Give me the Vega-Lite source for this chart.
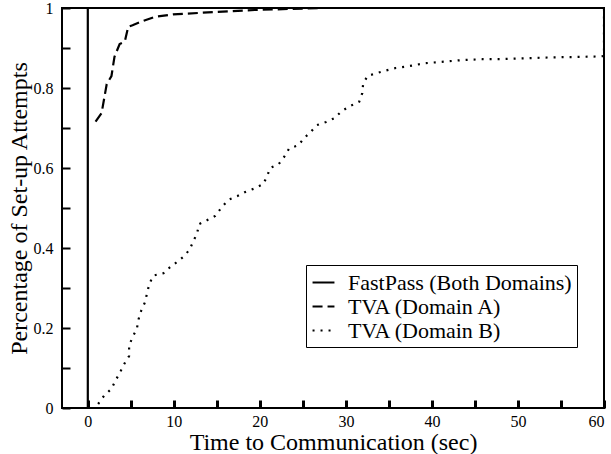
{
  "$schema": "https://vega.github.io/schema/vega-lite/v6.json",
  "width": 542,
  "height": 400,
  "autosize": {"type": "none"},
  "padding": {"left": 62, "top": 8, "right": 7, "bottom": 46},
  "background": "white",
  "config": {
    "font": "Liberation Serif",
    "view": {"stroke": "black", "strokeWidth": 2},
    "axis": {"grid": false, "domain": false, "labelFont": "Liberation Serif", "titleFont": "Liberation Serif", "labelColor": "black", "titleColor": "black", "titleFontWeight": "normal", "labelFontSize": 16, "titleFontSize": 24},
    "legend": {"labelFont": "Liberation Serif"}
  },
  "data": {"values": [
    {"series": "FastPass (Both Domains)", "x": 0, "y": 0},
    {"series": "FastPass (Both Domains)", "x": 0, "y": 1},
    {"series": "TVA (Domain A)", "x": 0.9, "y": 0.716},
    {"series": "TVA (Domain A)", "x": 1.6, "y": 0.737},
    {"series": "TVA (Domain A)", "x": 2.2, "y": 0.81},
    {"series": "TVA (Domain A)", "x": 2.75, "y": 0.83},
    {"series": "TVA (Domain A)", "x": 3.1, "y": 0.878},
    {"series": "TVA (Domain A)", "x": 3.7, "y": 0.91},
    {"series": "TVA (Domain A)", "x": 4.3, "y": 0.916},
    {"series": "TVA (Domain A)", "x": 4.7, "y": 0.953},
    {"series": "TVA (Domain A)", "x": 5.2, "y": 0.957},
    {"series": "TVA (Domain A)", "x": 6.2, "y": 0.966},
    {"series": "TVA (Domain A)", "x": 7.8, "y": 0.978},
    {"series": "TVA (Domain A)", "x": 9.9, "y": 0.984},
    {"series": "TVA (Domain A)", "x": 14.8, "y": 0.99},
    {"series": "TVA (Domain A)", "x": 19.4, "y": 0.995},
    {"series": "TVA (Domain A)", "x": 27.2, "y": 1},
    {"series": "TVA (Domain B)", "x": 1.2, "y": 0.01},
    {"series": "TVA (Domain B)", "x": 1.9, "y": 0.031},
    {"series": "TVA (Domain B)", "x": 2.75, "y": 0.048},
    {"series": "TVA (Domain B)", "x": 3.2, "y": 0.068},
    {"series": "TVA (Domain B)", "x": 3.75, "y": 0.089},
    {"series": "TVA (Domain B)", "x": 4.2, "y": 0.109},
    {"series": "TVA (Domain B)", "x": 4.8, "y": 0.13},
    {"series": "TVA (Domain B)", "x": 4.8, "y": 0.156},
    {"series": "TVA (Domain B)", "x": 5.2, "y": 0.177},
    {"series": "TVA (Domain B)", "x": 5.7, "y": 0.198},
    {"series": "TVA (Domain B)", "x": 5.9, "y": 0.222},
    {"series": "TVA (Domain B)", "x": 6.2, "y": 0.243},
    {"series": "TVA (Domain B)", "x": 6.7, "y": 0.267},
    {"series": "TVA (Domain B)", "x": 6.9, "y": 0.29},
    {"series": "TVA (Domain B)", "x": 7.2, "y": 0.312},
    {"series": "TVA (Domain B)", "x": 7.6, "y": 0.331},
    {"series": "TVA (Domain B)", "x": 8.8, "y": 0.337},
    {"series": "TVA (Domain B)", "x": 9.5, "y": 0.351},
    {"series": "TVA (Domain B)", "x": 10.3, "y": 0.364},
    {"series": "TVA (Domain B)", "x": 11.1, "y": 0.378},
    {"series": "TVA (Domain B)", "x": 11.8, "y": 0.395},
    {"series": "TVA (Domain B)", "x": 12.25, "y": 0.416},
    {"series": "TVA (Domain B)", "x": 12.7, "y": 0.437},
    {"series": "TVA (Domain B)", "x": 12.95, "y": 0.46},
    {"series": "TVA (Domain B)", "x": 13.9, "y": 0.47},
    {"series": "TVA (Domain B)", "x": 14.8, "y": 0.48},
    {"series": "TVA (Domain B)", "x": 15.5, "y": 0.5},
    {"series": "TVA (Domain B)", "x": 16.3, "y": 0.52},
    {"series": "TVA (Domain B)", "x": 17.4, "y": 0.53},
    {"series": "TVA (Domain B)", "x": 18.3, "y": 0.54},
    {"series": "TVA (Domain B)", "x": 19.4, "y": 0.549},
    {"series": "TVA (Domain B)", "x": 20.4, "y": 0.56},
    {"series": "TVA (Domain B)", "x": 20.85, "y": 0.58},
    {"series": "TVA (Domain B)", "x": 21.2, "y": 0.6},
    {"series": "TVA (Domain B)", "x": 22.2, "y": 0.61},
    {"series": "TVA (Domain B)", "x": 22.9, "y": 0.63},
    {"series": "TVA (Domain B)", "x": 23.4, "y": 0.649},
    {"series": "TVA (Domain B)", "x": 24.5, "y": 0.657},
    {"series": "TVA (Domain B)", "x": 25.1, "y": 0.674},
    {"series": "TVA (Domain B)", "x": 25.9, "y": 0.69},
    {"series": "TVA (Domain B)", "x": 26.6, "y": 0.707},
    {"series": "TVA (Domain B)", "x": 27.7, "y": 0.715},
    {"series": "TVA (Domain B)", "x": 28.7, "y": 0.725},
    {"series": "TVA (Domain B)", "x": 29.5, "y": 0.742},
    {"series": "TVA (Domain B)", "x": 30.5, "y": 0.755},
    {"series": "TVA (Domain B)", "x": 31.55, "y": 0.766},
    {"series": "TVA (Domain B)", "x": 31.9, "y": 0.787},
    {"series": "TVA (Domain B)", "x": 32, "y": 0.81},
    {"series": "TVA (Domain B)", "x": 32.5, "y": 0.83},
    {"series": "TVA (Domain B)", "x": 33.6, "y": 0.8375},
    {"series": "TVA (Domain B)", "x": 34.7, "y": 0.844},
    {"series": "TVA (Domain B)", "x": 35.8, "y": 0.85},
    {"series": "TVA (Domain B)", "x": 36.9, "y": 0.853},
    {"series": "TVA (Domain B)", "x": 39.2, "y": 0.862},
    {"series": "TVA (Domain B)", "x": 41.5, "y": 0.866},
    {"series": "TVA (Domain B)", "x": 43.6, "y": 0.87},
    {"series": "TVA (Domain B)", "x": 45.9, "y": 0.872},
    {"series": "TVA (Domain B)", "x": 48.3, "y": 0.8725},
    {"series": "TVA (Domain B)", "x": 50.6, "y": 0.874},
    {"series": "TVA (Domain B)", "x": 52.9, "y": 0.876},
    {"series": "TVA (Domain B)", "x": 55.2, "y": 0.877},
    {"series": "TVA (Domain B)", "x": 57.6, "y": 0.878},
    {"series": "TVA (Domain B)", "x": 59.5, "y": 0.879},
    {"series": "TVA (Domain B)", "x": 60, "y": 0.88},
    {"series": "TVA (Domain B)", "x": 60, "y": 1}
  ]},
  "mark": {"type": "line", "color": "black", "strokeWidth": 2.2, "clip": true},
  "encoding": {
    "x": {"field": "x", "type": "quantitative", "scale": {"domain": [-3, 60], "nice": false, "zero": false},
      "axis": {"orient": "bottom", "values": [0, 5, 10, 15, 20, 25, 30, 35, 40, 45, 50, 55, 60],
        "labelExpr": "datum.value % 10 === 0 ? datum.label : ''",
        "ticks": true, "tickColor": "black", "tickWidth": 3, "tickSize": -8,
        "labelPadding": 13, "title": "Time to Communication (sec)", "titlePadding": 1}},
    "y": {"field": "y", "type": "quantitative", "scale": {"domain": [0, 1], "nice": false},
      "axis": {"orient": "left", "values": [0, 0.1, 0.2, 0.3, 0.4, 0.5, 0.6, 0.7, 0.8, 0.9, 1], "format": "~g",
        "labelExpr": "round(datum.value * 10) % 2 === 0 ? datum.label : ''",
        "ticks": true, "tickColor": "black", "tickWidth": 2, "tickSize": -8,
        "labelPadding": 17, "title": "Percentage of Set-up Attempts", "titlePadding": 2}},
    "order": {"field": "y", "type": "quantitative"},
    "detail": {"field": "series"},
    "strokeDash": {"field": "series", "type": "nominal",
      "scale": {"domain": ["FastPass (Both Domains)", "TVA (Domain A)", "TVA (Domain B)"], "range": [[1, 0], [10, 5], [2, 6]]},
      "legend": {"orient": "none", "legendX": 244, "legendY": 257, "title": null, "direction": "vertical",
        "strokeColor": "black", "fillColor": "white", "padding": 5, "cornerRadius": 0,
        "labelFontSize": 22, "labelColor": "black", "labelLimit": 400,
        "symbolType": "stroke", "symbolSize": 480, "symbolStrokeWidth": 2.2, "symbolStrokeColor": "black", "rowPadding": 0, "labelOffset": 12}}
  }
}
